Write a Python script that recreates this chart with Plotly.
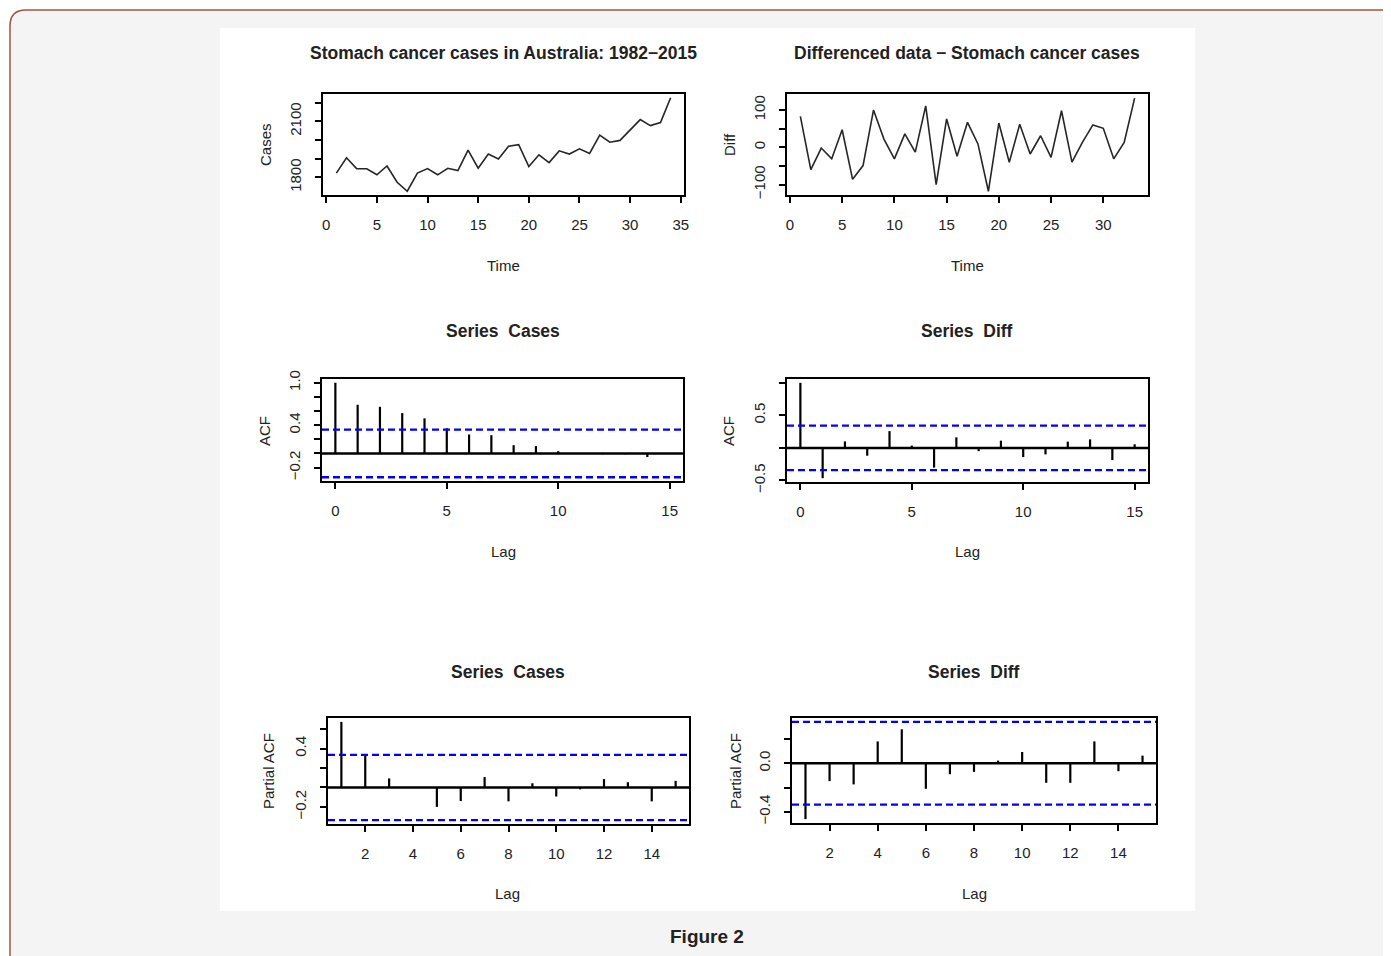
import plotly.graph_objects as go

W, H = 1391, 956
OFF = 8  # page body margin offset of the figure in the browser

# ---------------- data ----------------
time_cases = list(range(1, 35))
cases = [1823, 1905, 1847, 1846, 1814, 1861, 1774, 1726, 1823, 1847,
         1814, 1849, 1837, 1946, 1849, 1925, 1898, 1967, 1975, 1858,
         1921, 1879, 1942, 1925, 1953, 1928, 2026, 1988, 1998, 2054,
         2109, 2077, 2093, 2226]

time_diff = list(range(1, 34))
diff = [83, -60, -2, -31, 47, -86, -49, 100, 22, -31,
        36, -13, 111, -100, 76, -24, 67, 9, -118, 65,
        -40, 62, -18, 31, -27, 98, -40, 13, 60, 51,
        -31, 13, 132]

acf_lags = list(range(0, 16))
acf_cases = [1.0, 0.689, 0.660, 0.571, 0.497, 0.356, 0.269, 0.259,
             0.118, 0.104, 0.033, -0.008, -0.010, -0.012, -0.05, -0.006]
acf_diff = [1.0, -0.465, 0.100, -0.120, 0.258, 0.035, -0.303, 0.162,
            -0.050, 0.111, -0.141, -0.100, 0.096, 0.131, -0.187, 0.056]

pacf_lags = list(range(1, 16))
pacf_cases = [0.675, 0.330, 0.093, 0.005, -0.200, -0.140, 0.107, -0.143,
              0.043, -0.093, -0.020, 0.086, 0.054, -0.143, 0.068]
pacf_diff = [-0.460, -0.147, -0.174, 0.180, 0.280, -0.210, -0.090, -0.071,
             0.022, 0.093, -0.161, -0.161, 0.180, -0.065, 0.063]

clim_cases = 0.336
clim_diff = 0.341

# tick definitions
ts_cases_xticks = [0, 5, 10, 15, 20, 25, 30, 35]
ts_diff_xticks = [0, 5, 10, 15, 20, 25, 30]
cases_yticks = [1800, 1900, 2000, 2100, 2200]
cases_ylabels = ["1800", "", "", "2100", ""]
diff_yticks = [-100, -50, 0, 50, 100]
diff_ylabels = ["\u2212100", "", "0", "", "100"]
acf_xticks = [0, 5, 10, 15]
acfc_yticks = [-0.2, 0.0, 0.2, 0.4, 0.6, 0.8, 1.0]
acfc_ylabels = ["\u22120.2", "", "", "0.4", "", "", "1.0"]
acfd_yticks = [-0.5, 0.0, 0.5, 1.0]
acfd_ylabels = ["\u22120.5", "", "0.5", ""]
pacf_xticks = [2, 4, 6, 8, 10, 12, 14]
pacfc_yticks = [-0.2, 0.0, 0.2, 0.4, 0.6]
pacfc_ylabels = ["\u22120.2", "", "", "0.4", ""]
pacfd_yticks = [-0.4, -0.2, 0.0, 0.2]
pacfd_ylabels = ["\u22120.4", "", "0.0", ""]

# ---------------- layout helpers ----------------
SANS = "Liberation Sans, Arial, sans-serif"
TXT = "#222222"


def px(x):
    return (x - OFF) / W


def py(y):
    return 1 - (y - OFF) / H


def dom(x0, x1, y0, y1):
    return [px(x0), px(x1)], [py(y1), py(y0)]


panels = {
    1: dom(323, 684, 94, 195),
    2: dom(787, 1148, 94, 195),
    3: dom(322, 683, 379, 481),
    4: dom(787, 1148, 379, 482),
    5: dom(328, 689, 718, 824),
    6: dom(792, 1156, 718, 823),
}

fig = go.Figure()


def stems(xs, vs):
    X, Y = [], []
    for x, v in zip(xs, vs):
        X += [x, x, None]
        Y += [0, v, None]
    return X, Y


def ax_name(i, kind):
    return kind + ("" if i == 1 else str(i))


# time series
fig.add_trace(go.Scatter(x=time_cases, y=cases, mode="lines",
                         line=dict(color="#262626", width=1.6),
                         xaxis="x", yaxis="y", showlegend=False, hoverinfo="skip"))
fig.add_trace(go.Scatter(x=time_diff, y=diff, mode="lines",
                         line=dict(color="#262626", width=1.6),
                         xaxis="x2", yaxis="y2", showlegend=False, hoverinfo="skip"))

for i, (lags, vals) in zip([3, 4, 5, 6], [(acf_lags, acf_cases), (acf_lags, acf_diff),
                                          (pacf_lags, pacf_cases), (pacf_lags, pacf_diff)]):
    X, Y = stems(lags, vals)
    fig.add_trace(go.Scatter(x=X, y=Y, mode="lines",
                             line=dict(color="black", width=2.2),
                             xaxis="x%d" % i, yaxis="y%d" % i,
                             showlegend=False, hoverinfo="skip"))

ranges = {
    1: ([-0.32, 35.32], [1706, 2246]),
    2: ([-0.28, 34.28], [-128, 143]),
    3: ([-0.6, 15.6], [-0.389, 1.053]),
    4: ([-0.6, 15.6], [-0.524, 1.059]),
    5: ([0.44, 15.56], [-0.376, 0.715]),
    6: ([0.44, 15.56], [-0.492, 0.373]),
}
xticks = {1: (ts_cases_xticks, [str(v) for v in ts_cases_xticks]),
          2: (ts_diff_xticks, [str(v) for v in ts_diff_xticks]),
          3: (acf_xticks, [str(v) for v in acf_xticks]),
          4: (acf_xticks, [str(v) for v in acf_xticks]),
          5: (pacf_xticks, [str(v) for v in pacf_xticks]),
          6: (pacf_xticks, [str(v) for v in pacf_xticks])}
yticks = {1: (cases_yticks, cases_ylabels),
          2: (diff_yticks, diff_ylabels),
          3: (acfc_yticks, acfc_ylabels),
          4: (acfd_yticks, acfd_ylabels),
          5: (pacfc_yticks, pacfc_ylabels),
          6: (pacfd_yticks, pacfd_ylabels)}

layout_axes = {}
for i in range(1, 7):
    xd, yd = panels[i]
    xr, yr = ranges[i]
    common = dict(showline=True, mirror=True, linecolor="black", linewidth=2,
                  ticks="outside", ticklen=6, tickwidth=2, tickcolor="black",
                  showgrid=False, zeroline=False, fixedrange=True, automargin=False)
    layout_axes["xaxis" + ("" if i == 1 else str(i))] = dict(
        domain=xd, range=xr, anchor=ax_name(i, "y"),
        tickmode="array", tickvals=xticks[i][0], ticktext=xticks[i][1],
        tickfont=dict(family=SANS, size=15, color=TXT),
        ticklabelstandoff=9, **common)
    layout_axes["yaxis" + ("" if i == 1 else str(i))] = dict(
        domain=yd, range=yr, anchor=ax_name(i, "x"),
        tickmode="array", tickvals=yticks[i][0], ticktext=yticks[i][1],
        tickangle=-90, tickfont=dict(family=SANS, size=15, color=TXT),
        ticklabelstandoff=8, **common)

shapes = []
# outer frame with rounded top-left corner (extends past right and bottom edges)
shapes.append(dict(type="path", xref="paper", yref="paper", layer="below",
                   path="M %f,%f L %f,%f Q %f,%f %f,%f L %f,%f L %f,%f Z" % (
                       px(10), py(990),
                       px(10), py(26),
                       px(10), py(10), px(26), py(10),
                       px(1420), py(10),
                       px(1420), py(990)),
                   fillcolor="#f4f4f4", line=dict(color="#a0553f", width=1.5)))
shapes.append(dict(type="rect", xref="paper", yref="paper", layer="below",
                   x0=px(220), x1=px(1195), y0=py(911), y1=py(28),
                   fillcolor="white", line=dict(width=0)))

for i, clim in zip([3, 4, 5, 6], [clim_cases, clim_diff, clim_cases, clim_diff]):
    xr = "x%d domain" % i
    yr = "y%d" % i
    shapes.append(dict(type="line", xref=xr, yref=yr, x0=0, x1=1, y0=0, y1=0,
                       line=dict(color="black", width=2.5)))
    for c in (clim, -clim):
        shapes.append(dict(type="line", xref=xr, yref=yr, x0=0, x1=1, y0=c, y1=c,
                           line=dict(color="#0000ff", width=2.3, dash="7px,4px")))

annotations = []


def txt(x, y, s, size, bold=False, angle=0, color=TXT):
    annotations.append(dict(x=px(x), y=py(y), xref="paper", yref="paper",
                            text=("<b>%s</b>" % s) if bold else s, showarrow=False,
                            xanchor="center", yanchor="middle", textangle=angle,
                            font=dict(size=size, family=SANS, color=color)))


# titles
txt(503, 53, "Stomach cancer cases in Australia: 1982\u22122015", 17.5, True)
txt(967, 53, "Differenced data \u2212 Stomach cancer cases", 17.5, True)
txt(503, 331, "Series  Cases", 17.5, True)
txt(967, 331, "Series  Diff", 17.5, True)
txt(508, 672, "Series  Cases", 17.5, True)
txt(974, 672, "Series  Diff", 17.5, True)
# x axis titles
txt(503, 265, "Time", 15)
txt(967, 265, "Time", 15)
txt(503, 551, "Lag", 15)
txt(967, 551, "Lag", 15)
txt(508, 893, "Lag", 15)
txt(974, 893, "Lag", 15)
# y axis titles
txt(265, 145, "Cases", 15, angle=-90)
txt(729, 145, "Diff", 15, angle=-90)
txt(265, 431, "ACF", 15, angle=-90)
txt(729, 431, "ACF", 15, angle=-90)
txt(268, 771, "Partial ACF", 15, angle=-90)
txt(735, 771, "Partial ACF", 15, angle=-90)
# caption
txt(707, 936, "Figure 2", 19, True, color="#222222")

fig.update_layout(template="none", width=W, height=H,
                  margin=dict(l=0, r=0, t=0, b=0, pad=0, autoexpand=False),
                  paper_bgcolor="white", plot_bgcolor="rgba(0,0,0,0)",
                  shapes=shapes, annotations=annotations, showlegend=False,
                  **layout_axes)

fig.write_html("out.html")
